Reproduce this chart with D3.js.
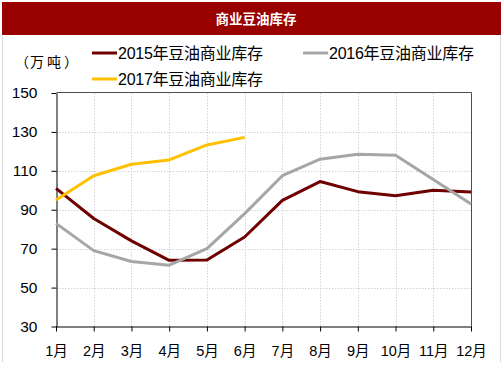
<!DOCTYPE html>
<html>
<head>
<meta charset="utf-8">
<script src="https://cdn.jsdelivr.net/npm/d3@7"></script>
<style>
  body { margin: 0; background: #fff; }
  svg { display: block; }
  text { font-family: "Liberation Sans", Arial, "Noto Sans CJK SC", sans-serif; }
</style>
</head>
<body>
<svg id="chart" width="503" height="378"></svg>
<script>
// data
var months = ["1月", "2月", "3月", "4月", "5月", "6月", "7月", "8月", "9月", "10月", "11月", "12月"];
var yTicks = [30, 50, 70, 90, 110, 130, 150];
var stock2015 = [101, 85.5, 74, 64, 64.2, 76, 94.8, 104.5, 99.3, 97.2, 100, 99.1];
var stock2016 = [83, 69, 63.4, 61.5, 70, 88, 107.5, 116, 118.5, 118, 105.5, 93];
var stock2017 = [95, 107.5, 113.4, 115.6, 123.3, 127.2];
var seriesNames = ["2015年豆油商业库存", "2016年豆油商业库存", "2017年豆油商业库存"];
var seriesColors = ["#6e0000", "#a6a6a6", "#ffc000"];

var svg = d3.select("#chart");
var cjk = "'Noto Sans CJK SC', sans-serif";

// title bar + outer frame
svg.append("rect").attr("x", 2).attr("y", 2).attr("width", 499).attr("height", 33).attr("fill", "#990000");
svg.append("text").attr("x", 256).attr("y", 19).attr("dy", "0.35em")
    .attr("text-anchor", "middle").attr("fill", "#fff")
    .style("font-family", cjk).style("font-weight", "bold").style("font-size", "13.5px")
    .text("商业豆油库存");
svg.append("line").attr("x1", 2.5).attr("x2", 2.5).attr("y1", 36).attr("y2", 362).attr("stroke", "#d9d9d9");
svg.append("line").attr("x1", 500.5).attr("x2", 500.5).attr("y1", 36).attr("y2", 362).attr("stroke", "#d9d9d9");

var x = d3.scalePoint().domain(months).range([56, 471]);
var y = d3.scaleLinear().domain([30, 150]).range([326.5, 93]);

// grid
var grid = svg.append("g").attr("stroke", "#d4d4d4").attr("stroke-dasharray", "1.5,1.5");
grid.selectAll(".gy").data(yTicks.slice(1, -1)).join("line")
    .attr("x1", 56).attr("x2", 471)
    .attr("y1", function (d) { return Math.round(y(d)) + 0.5; })
    .attr("y2", function (d) { return Math.round(y(d)) + 0.5; });
grid.selectAll(".gx").data(months.slice(1, -1)).join("line")
    .attr("y1", 93).attr("y2", 326.5)
    .attr("x1", function (d) { return Math.round(x(d)) + 0.5; })
    .attr("x2", function (d) { return Math.round(x(d)) + 0.5; });

// frame: top/right grey, left/bottom black
svg.append("path").attr("d", "M56.5,92.5H471.5V326.5").attr("fill", "none").attr("stroke", "#4d4d4d");

var yAxis = svg.append("g").attr("transform", "translate(56.5,0)")
    .call(d3.axisLeft(y).tickValues(yTicks).tickSize(5).tickSizeOuter(0).tickPadding(14));
var xAxis = svg.append("g").attr("transform", "translate(0,326.5)")
    .call(d3.axisBottom(x).tickSize(5).tickSizeOuter(0).tickPadding(14));
[yAxis, xAxis].forEach(function (a) {
    a.select(".domain").attr("stroke", "#000");
    a.selectAll(".tick line").attr("stroke", "#000");
    a.selectAll(".tick text").attr("fill", "#000");
});
yAxis.selectAll(".tick text").style("font-size", "15.5px");
xAxis.selectAll(".tick text").style("font-size", "14.5px");

// lines
var line = d3.line()
    .x(function (d, i) { return x(months[i]); })
    .y(function (d) { return y(d); });
[stock2015, stock2016, stock2017].forEach(function (s, i) {
    svg.append("path").datum(s)
        .attr("fill", "none").attr("stroke", seriesColors[i])
        .attr("stroke-width", 3).attr("stroke-linejoin", "round")
        .attr("d", line);
});

// unit, spaced out like the original
svg.append("text").attr("x", "22 37 54 71").attr("y", 62).attr("dy", "0.35em")
    .attr("text-anchor", "middle")
    .style("font-family", cjk).style("font-size", "14px").attr("fill", "#000")
    .text("（万吨）");

// legend
var legendPos = [[92, 53], [303, 53], [92, 79]];
seriesNames.forEach(function (name, i) {
    var p = legendPos[i];
    svg.append("line").attr("x1", p[0]).attr("x2", p[0] + 25)
        .attr("y1", p[1]).attr("y2", p[1])
        .attr("stroke", seriesColors[i]).attr("stroke-width", 3);
    var t = svg.append("text").attr("x", p[0] + 26).attr("y", p[1]).attr("dy", "0.36em")
        .attr("textLength", 145).attr("lengthAdjust", "spacing")
        .style("font-size", "16px").attr("fill", "#000");
    t.append("tspan").text(name.slice(0, 4));
    t.append("tspan").style("font-family", cjk).text(name.slice(4));
});
</script>
</body>
</html>
